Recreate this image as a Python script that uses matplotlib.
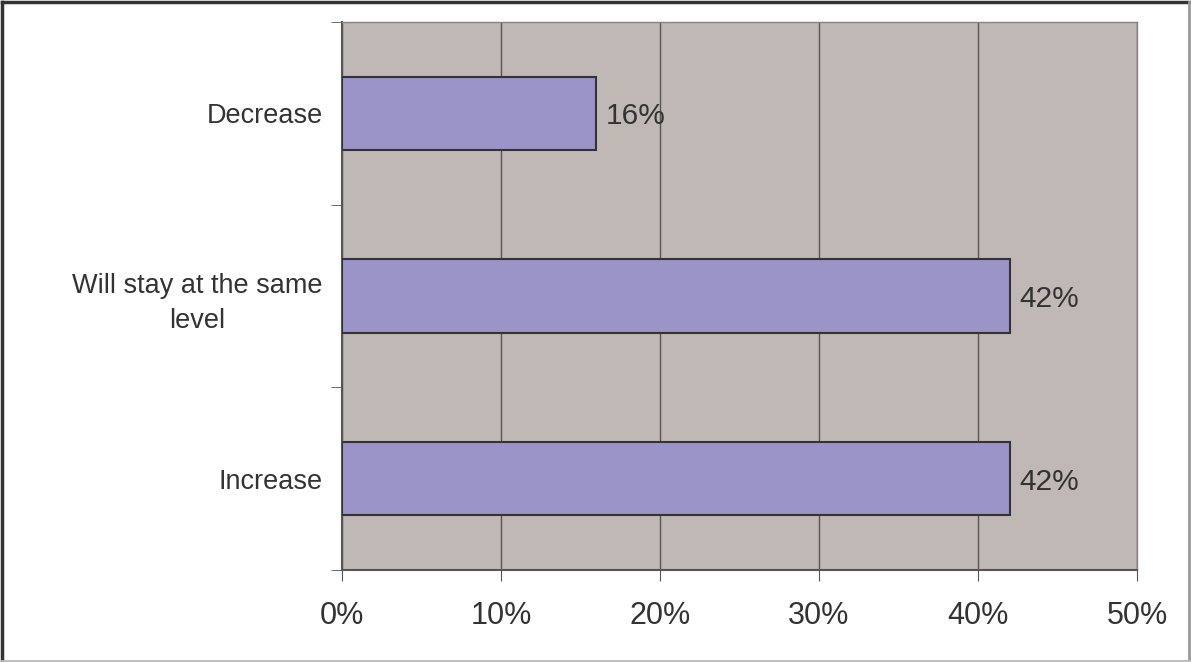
import matplotlib
matplotlib.use("Agg")
import matplotlib.pyplot as plt
from matplotlib.lines import Line2D
import numpy as np

# data
categories = ["Increase", "Will stay at the same\nlevel", "Decrease"]
shares = [42, 42, 16]
x_ticks = [0, 10, 20, 30, 40, 50]

plt.rcParams['font.family'] = ['Liberation Sans', 'DejaVu Sans']
text_col = "#333333"

fig = plt.figure(figsize=(11.91, 6.62), dpi=100)
ax = fig.add_axes([342 / 1191, 1 - 570 / 662, (1137 - 342) / 1191, (570 - 22) / 662])

ax.set_facecolor("#C0B8B5")
ypos = np.arange(len(categories))
ax.barh(ypos, shares, height=0.4, color="#9A94C8", edgecolor="#333333",
        linewidth=1.5, zorder=3)

# value labels to the right of each bar
for y, v in zip(ypos, shares):
    ax.text(v + 0.6, y, f"{v}%", va="center_baseline", ha="left", fontsize=21.5,
            color=text_col, zorder=4)

ax.set_xlim(0, 50)
ax.set_ylim(-0.5, len(categories) - 0.5)
ax.set_xticks(x_ticks)
ax.set_xticklabels([f"{t}%" for t in x_ticks], fontsize=22, color=text_col)
ax.xaxis.grid(True, color="#555555", linewidth=1.0, zorder=1)
ax.set_axisbelow(True)

ax.set_yticks(ypos)
ax.set_yticklabels(categories, fontsize=19.5, color=text_col,
                   multialignment="center", linespacing=1.45)
ax.set_yticks(np.arange(-0.5, len(categories), 1.0), minor=True)
ax.tick_params(axis="y", which="major", length=0, pad=14)
ax.tick_params(axis="y", which="minor", length=8, color="#555555", direction="out")
ax.tick_params(axis="x", length=8, color="#555555", direction="out", pad=14)

for side in ["left", "bottom"]:
    ax.spines[side].set_color("#555555")
    ax.spines[side].set_linewidth(1.5)
ax.spines["top"].set_color("#8a8280")
ax.spines["right"].set_color("#8a8280")
ax.spines["top"].set_linewidth(1.0)
ax.spines["right"].set_linewidth(1.0)

# outer frame of the figure
fig.add_artist(Line2D([0.002, 0.998], [0.997, 0.997], color="#333333", linewidth=2.5,
                      transform=fig.transFigure))
fig.add_artist(Line2D([0.002, 0.002], [0.002, 0.997], color="#333333", linewidth=2.5,
                      transform=fig.transFigure))
fig.add_artist(Line2D([0.998, 0.998], [0.002, 0.997], color="#999999", linewidth=2,
                      transform=fig.transFigure))
fig.add_artist(Line2D([0.002, 0.998], [0.002, 0.002], color="#bbbbbb", linewidth=2,
                      transform=fig.transFigure))

fig.savefig("out.png", dpi=100)
